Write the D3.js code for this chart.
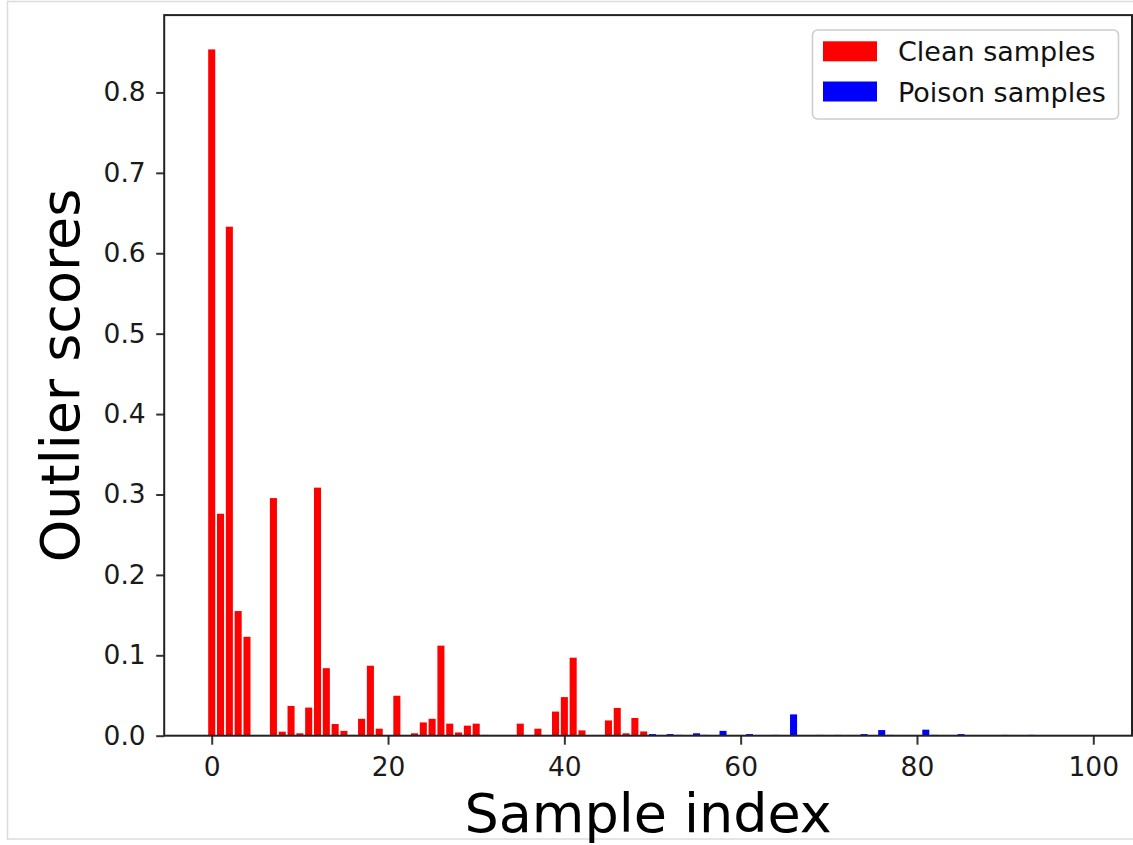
<!DOCTYPE html>
<html>
<head>
<meta charset="utf-8">
<script src="https://cdn.jsdelivr.net/npm/d3@7"></script>
<style>
  html, body { margin: 0; padding: 0; background: #fff; }
  svg { display: block; font-family: "DejaVu Sans", sans-serif; }
</style>
</head>
<body>
<svg id="chart" width="1133" height="845"></svg>
<script>
// Outlier score per sample; the first half are clean samples, the second half poisoned ones.
const cleanScores = [
  0.8535, 0.276, 0.633, 0.155, 0.123, 0, 0, 0.2955, 0.005, 0.037,
  0.003, 0.035, 0.3085, 0.084, 0.0145, 0.006, 0.001, 0.021, 0.087, 0.0087,
  0, 0.0497, 0, 0.003, 0.0165, 0.021, 0.112, 0.015, 0.004, 0.0125,
  0.015, 0.001, 0, 0, 0, 0.015, 0, 0.0087, 0, 0.030,
  0.048, 0.097, 0.0066, 0, 0, 0.019, 0.0345, 0.003, 0.022, 0.0053
];
const poisonScores = [
  0.002, 0, 0.002, 0.001, 0, 0.003, 0.001, 0, 0.006, 0,
  0, 0.002, 0, 0, 0.001, 0, 0.0265, 0, 0, 0.001,
  0, 0.001, 0, 0, 0.002, 0, 0.007, 0.001, 0, 0,
  0, 0.0075, 0.001, 0, 0, 0.002, 0, 0, 0, 0,
  0.001, 0, 0, 0.001, 0, 0, 0, 0, 0, 0
];
const seriesNames = ["Clean samples", "Poison samples"];
const seriesColors = ["#ff0000", "#0000ff"];
const xTickValues = [0, 20, 40, 60, 80, 100];
const yTickValues = [0.0, 0.1, 0.2, 0.3, 0.4, 0.5, 0.6, 0.7, 0.8];
const xLabel = "Sample index";
const yLabel = "Outlier scores";

const bars = [
  ...cleanScores.map((v, i) => ({ idx: i, value: v, series: 0 })),
  ...poisonScores.map((v, i) => ({ idx: cleanScores.length + i, value: v, series: 1 }))
];

const svg = d3.select("#chart");

// plot frame
const plotLeft = 164.2, plotRight = 1132, plotTop = 15.1, plotBottom = 735.7;
const barWidth = 0.8;
const n = bars.length;
const pad = (n - 1 + barWidth) * 0.05;
const x = d3.scaleLinear()
  .domain([-barWidth / 2 - pad, n - 1 + barWidth / 2 + pad])
  .range([plotLeft, plotRight]);
const maxV = d3.max(bars, d => d.value);
const y = d3.scaleLinear()
  .domain([0, maxV * 1.05])
  .range([plotBottom, plotTop]);

// thin light border around the figure
svg.append("rect")
  .attr("x", 7.5).attr("y", 1.5)
  .attr("width", 1140).attr("height", 837.5)
  .attr("fill", "none").attr("stroke", "#dcdcdc").attr("stroke-width", 1.5);

// bars
svg.append("g").selectAll("rect")
  .data(bars.filter(d => d.value > 0))
  .join("rect")
  .attr("x", d => x(d.idx - barWidth / 2))
  .attr("width", d => x(d.idx + barWidth / 2) - x(d.idx - barWidth / 2))
  .attr("y", d => y(d.value))
  .attr("height", d => y(0) - y(d.value))
  .attr("fill", d => seriesColors[d.series]);

// axes
const tickFont = 26.5;
const xAxis = svg.append("g")
  .attr("transform", `translate(0,${plotBottom})`)
  .call(d3.axisBottom(x).tickValues(xTickValues).tickFormat(d3.format("d"))
    .tickSize(9).tickPadding(12.5).tickSizeOuter(0));
const yAxis = svg.append("g")
  .attr("transform", `translate(${plotLeft},0)`)
  .call(d3.axisLeft(y).tickValues(yTickValues).tickFormat(d3.format(".1f"))
    .tickSize(8).tickPadding(10.5).tickSizeOuter(0));

[xAxis, yAxis].forEach(g => {
  g.select(".domain").remove();
  g.selectAll(".tick line").attr("stroke", "#333").attr("stroke-width", 2);
  g.selectAll(".tick text")
    .attr("fill", "#1a1a1a")
    .style("font-family", "'DejaVu Sans', sans-serif")
    .style("font-size", tickFont + "px");
});

// spines
svg.append("rect")
  .attr("x", plotLeft).attr("y", plotTop)
  .attr("width", plotRight - plotLeft).attr("height", plotBottom - plotTop)
  .attr("fill", "none").attr("stroke", "#222").attr("stroke-width", 2);

// axis titles
svg.append("text")
  .attr("x", (plotLeft + plotRight) / 2).attr("y", 832)
  .attr("text-anchor", "middle")
  .attr("font-size", 54).attr("fill", "#000")
  .text(xLabel);
svg.append("text")
  .attr("transform", `translate(79,${(plotTop + plotBottom) / 2}) rotate(-90)`)
  .attr("text-anchor", "middle")
  .attr("font-size", 54).attr("fill", "#000")
  .text(yLabel);

// legend
const legend = svg.append("g");
legend.append("rect")
  .attr("x", 812.5).attr("y", 30)
  .attr("width", 306).attr("height", 89)
  .attr("rx", 5)
  .attr("fill", "#fff").attr("fill-opacity", 0.8)
  .attr("stroke", "#cccccc").attr("stroke-width", 1.5);
const rowY = [51.3, 91.5];
seriesNames.forEach((name, i) => {
  legend.append("rect")
    .attr("x", 823).attr("y", rowY[i] - 10)
    .attr("width", 54).attr("height", 20)
    .attr("fill", seriesColors[i]);
  legend.append("text")
    .attr("x", 898).attr("y", rowY[i] + 10)
    .attr("font-size", 27).attr("fill", "#111")
    .text(name);
});
</script>
</body>
</html>
